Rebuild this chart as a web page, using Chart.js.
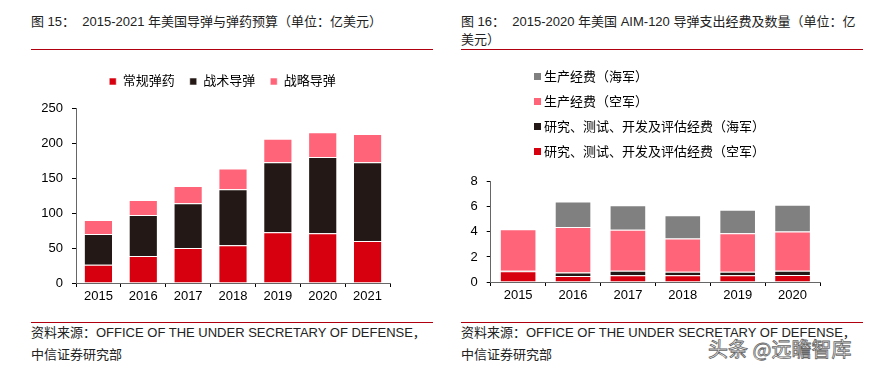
<!DOCTYPE html>
<html>
<head>
<meta charset="utf-8">
<script src="https://cdn.jsdelivr.net/npm/chart.js@4/dist/chart.umd.min.js"></script>
<style>
  body { margin: 0; background: #fff; }
  #page { position: relative; width: 881px; height: 372px; overflow: hidden; background: #fff;
          font-family: "Liberation Sans", Arial, "Noto Sans CJK SC", sans-serif; color: #222; }
  .t { position: absolute; font-size: 13px; white-space: pre; line-height: 18px; }
  .rule { position: absolute; height: 1px; background: #b00010; }
  canvas { position: absolute; }
  #legend2 { position: absolute; left: 534px; top: 68px; font-size: 13px; color: #000; }
  #legend2 div { height: 25px; line-height: 18px; white-space: nowrap; }
  #legend2 span.box { display: inline-block; width: 7px; height: 7px; margin-right: 3px; vertical-align: 1px; }
  #wm { position: absolute; left: 708px; top: 334px; font-size: 20px; color: #fff;
        -webkit-text-stroke: 0.8px #666; font-family: "Noto Sans CJK SC", sans-serif; white-space: pre; }
</style>
</head>
<body>
<div id="page">
  <div class="t" style="left:31px;top:13px;">图 15：  2015-2021 年美国导弹与弹药预算（单位：亿美元）</div>
  <div class="rule" style="left:31px;top:49px;width:402px;"></div>
  <div class="t" style="left:461px;top:13px;">图 16：  2015-2020 年美国 AIM-120 导弹支出经费及数量（单位：亿
美元）</div>
  <div class="rule" style="left:461px;top:49px;width:402px;"></div>

  <canvas id="chart1" width="440" height="248" style="left:0;top:60px;"></canvas>
  <canvas id="chart2" width="400" height="142" style="left:440px;top:165px;"></canvas>
  <div id="legend2"></div>

  <div class="rule" style="left:31px;top:322px;width:402px;"></div>
  <div class="t" style="left:31px;top:324px;">资料来源：OFFICE OF THE UNDER SECRETARY OF DEFENSE，</div>
  <div class="t" style="left:31px;top:346px;">中信证券研究部</div>
  <div class="rule" style="left:461px;top:322px;width:402px;"></div>
  <div class="t" style="left:461px;top:324px;">资料来源：OFFICE OF THE UNDER SECRETARY OF DEFENSE，</div>
  <div class="t" style="left:461px;top:346px;">中信证券研究部</div>
  <div id="wm">头条 @远瞻智库</div>
</div>

<script>
// 图15 数据（亿美元）
const years1 = ['2015', '2016', '2017', '2018', '2019', '2020', '2021'];
const conventional = [26, 38.5, 50, 54, 72.5, 71, 60];      // 常规弹药
const tactical = [44, 58.5, 64, 80, 100, 109, 112.5];       // 战术导弹
const strategic = [20, 21.5, 24.5, 29.5, 33.5, 35.5, 40.5]; // 战略导弹

// 图16 数据（亿美元）
const years2 = ['2015', '2016', '2017', '2018', '2019', '2020'];
const afRdte = [0.85, 0.47, 0.53, 0.53, 0.53, 0.55];   // 研究、测试、开发及评估经费（空军）
const navyRdte = [0.05, 0.29, 0.36, 0.29, 0.29, 0.34]; // 研究、测试、开发及评估经费（海军）
const afProc = [3.32, 3.63, 3.29, 2.65, 3.07, 3.14];   // 生产经费（空军）
const navyProc = [0, 2.03, 1.95, 1.85, 1.87, 2.13];    // 生产经费（海军）

const RED = '#d7000f';
const BLACK = '#231815';
const PINK = '#ff6479';
const GRAY = '#808080';
const EDGE = 'rgba(255,255,255,0.55)';
const FONT = { family: '"Liberation Sans", Arial, "Noto Sans CJK SC", sans-serif', size: 13 };

Chart.defaults.font = FONT;
Chart.defaults.color = '#000';

function bar(label, data, color, pct) {
    return {
        label: label,
        data: data,
        backgroundColor: color,
        borderColor: EDGE,
        borderWidth: 1,
        categoryPercentage: 1,
        barPercentage: pct
    };
}

function axes(max, step, yWidth) {
    return {
        x: {
            stacked: true,
            grid: { drawOnChartArea: false, tickLength: 4, color: '#000' },
            border: { color: '#666' },
            ticks: { padding: 2 },
            afterFit: (s) => { s.height = 25; }
        },
        y: {
            stacked: true,
            min: 0,
            max: max,
            grid: { drawOnChartArea: false, tickLength: 4, color: '#000' },
            border: { color: '#666' },
            ticks: { stepSize: step, padding: 9 },
            afterFit: (s) => { s.width = yWidth; }
        }
    };
}

// more room under the legend, and nudge it right so it sits centred like the original
const legendTweak = {
    id: 'legendTweak',
    beforeInit(chart) {
        const fit = chart.legend.fit;
        chart.legend.fit = function () {
            fit.call(this);
            this.height += 10;
        };
    },
    afterLayout(chart) {
        chart.legend.left += 9;
        chart.legend.right += 9;
    }
};

new Chart(document.getElementById('chart1'), {
    type: 'bar',
    data: {
        labels: years1,
        datasets: [
            bar('常规弹药', conventional, RED, 0.65),
            bar('战术导弹', tactical, BLACK, 0.65),
            bar('战略导弹', strategic, PINK, 0.65)
        ]
    },
    options: {
        responsive: false,
        animation: false,
        layout: { padding: { left: 37, right: 50, top: 0, bottom: 0 } },
        scales: axes(250, 50, 39),
        plugins: {
            legend: {
                position: 'top',
                labels: { boxWidth: 7, boxHeight: 7, padding: 15, font: FONT, color: '#000' }
            },
            tooltip: { enabled: false }
        }
    },
    plugins: [legendTweak]
});

const chart2 = new Chart(document.getElementById('chart2'), {
    type: 'bar',
    data: {
        labels: years2,
        datasets: [
            bar('研究、测试、开发及评估经费（空军）', afRdte, RED, 0.667),
            bar('研究、测试、开发及评估经费（海军）', navyRdte, BLACK, 0.667),
            bar('生产经费（空军）', afProc, PINK, 0.667),
            bar('生产经费（海军）', navyProc, GRAY, 0.667)
        ]
    },
    options: {
        responsive: false,
        animation: false,
        layout: { padding: { left: 0, right: 20, top: 8, bottom: 0 } },
        scales: axes(8, 2, 50.7),
        plugins: {
            legend: { display: false },
            tooltip: { enabled: false }
        }
    }
});

// vertical legend for chart 2, top item = last dataset
const legend2 = document.getElementById('legend2');
chart2.data.datasets.slice().reverse().forEach((ds) => {
    const row = document.createElement('div');
    const box = document.createElement('span');
    box.className = 'box';
    box.style.background = ds.backgroundColor;
    row.appendChild(box);
    row.appendChild(document.createTextNode(ds.label));
    legend2.appendChild(row);
});
</script>
</body>
</html>
